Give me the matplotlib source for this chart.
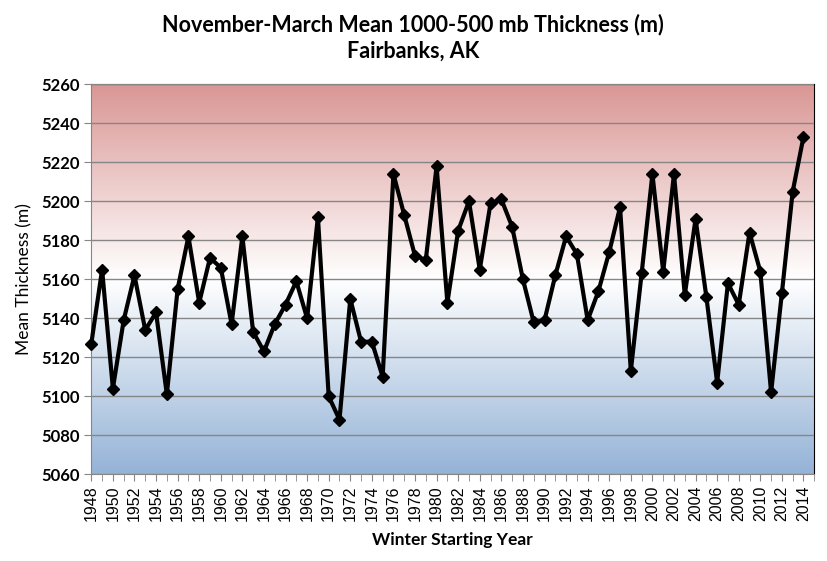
import numpy as np
import matplotlib
matplotlib.use("Agg")
import matplotlib.pyplot as plt
from matplotlib.colors import LinearSegmentedColormap

years = list(range(1948, 2015))
thickness = [5127, 5165, 5104, 5139, 5162, 5134, 5143, 5101, 5155, 5182,
             5148, 5171, 5166, 5137, 5182, 5133, 5123, 5137, 5147, 5159,
             5140, 5192, 5100, 5088, 5150, 5128, 5128, 5110, 5214, 5193,
             5172, 5170, 5218, 5148, 5185, 5200, 5165, 5199, 5201, 5187,
             5160, 5138, 5139, 5162, 5182, 5173, 5139, 5154, 5174, 5197,
             5113, 5163, 5214, 5164, 5214, 5152, 5191, 5151, 5107, 5158,
             5147, 5184, 5164, 5102, 5153, 5205, 5233]
label_years = list(range(1948, 2015, 2))

plt.rcParams['font.family'] = ['Lato', 'DejaVu Sans']

fig = plt.figure(figsize=(8.27, 5.61), dpi=100)
ax = fig.add_axes([0.1104, 0.1545, 0.8742, 0.6952])

# background gradient: red at top, white in middle, blue at bottom
cmap = LinearSegmentedColormap.from_list(
    "rb", ["#95b3d7", "#ffffff", "#d99694"])
grad = np.linspace(0, 1, 256).reshape(-1, 1)
ax.imshow(grad, cmap=cmap, origin="lower", aspect="auto",
          extent=[1948, 2015, 5060, 5260], zorder=0)

ax.plot(years, thickness, color="black", lw=3.0, marker="D", ms=6.5,
        zorder=3, clip_on=False)

ax.set_xlim(1948, 2015)
ax.set_ylim(5060, 5260)
ax.set_yticks(range(5060, 5261, 20))
ax.yaxis.grid(True, color="#868686", lw=1)
ax.set_axisbelow(False)
for gl in ax.get_ygridlines():
    gl.set_zorder(1)

ax.set_xticks(range(1948, 2016), minor=True)
ax.set_xticks(label_years)
ax.set_xticklabels([str(y) for y in label_years], rotation=90,
                   family="Liberation Sans", fontsize=11.5)
ax.tick_params(axis="x", which="both", length=5, color="#868686",
               direction="out", pad=3)
ax.tick_params(axis="y", length=5, color="#868686", labelsize=12)
for lab in ax.get_yticklabels():
    lab.set_fontweight("bold")

ax.spines["left"].set_color("#868686")
ax.spines["bottom"].set_color("#868686")
ax.spines["top"].set_color("black")
ax.spines["right"].set_color("black")

ax.set_ylabel("Mean Thickness (m)", fontsize=12.5, labelpad=6)
ax.set_xlabel("Winter Starting Year", fontsize=12.5, fontweight="bold",
              labelpad=8)
fig.text(0.4995, 0.975, "November-March Mean 1000-500 mb Thickness (m)\nFairbanks, AK",
         ha="center", va="top", fontsize=15.5, fontweight="bold",
         linespacing=1.3)

fig.savefig("out.png", dpi=100)
